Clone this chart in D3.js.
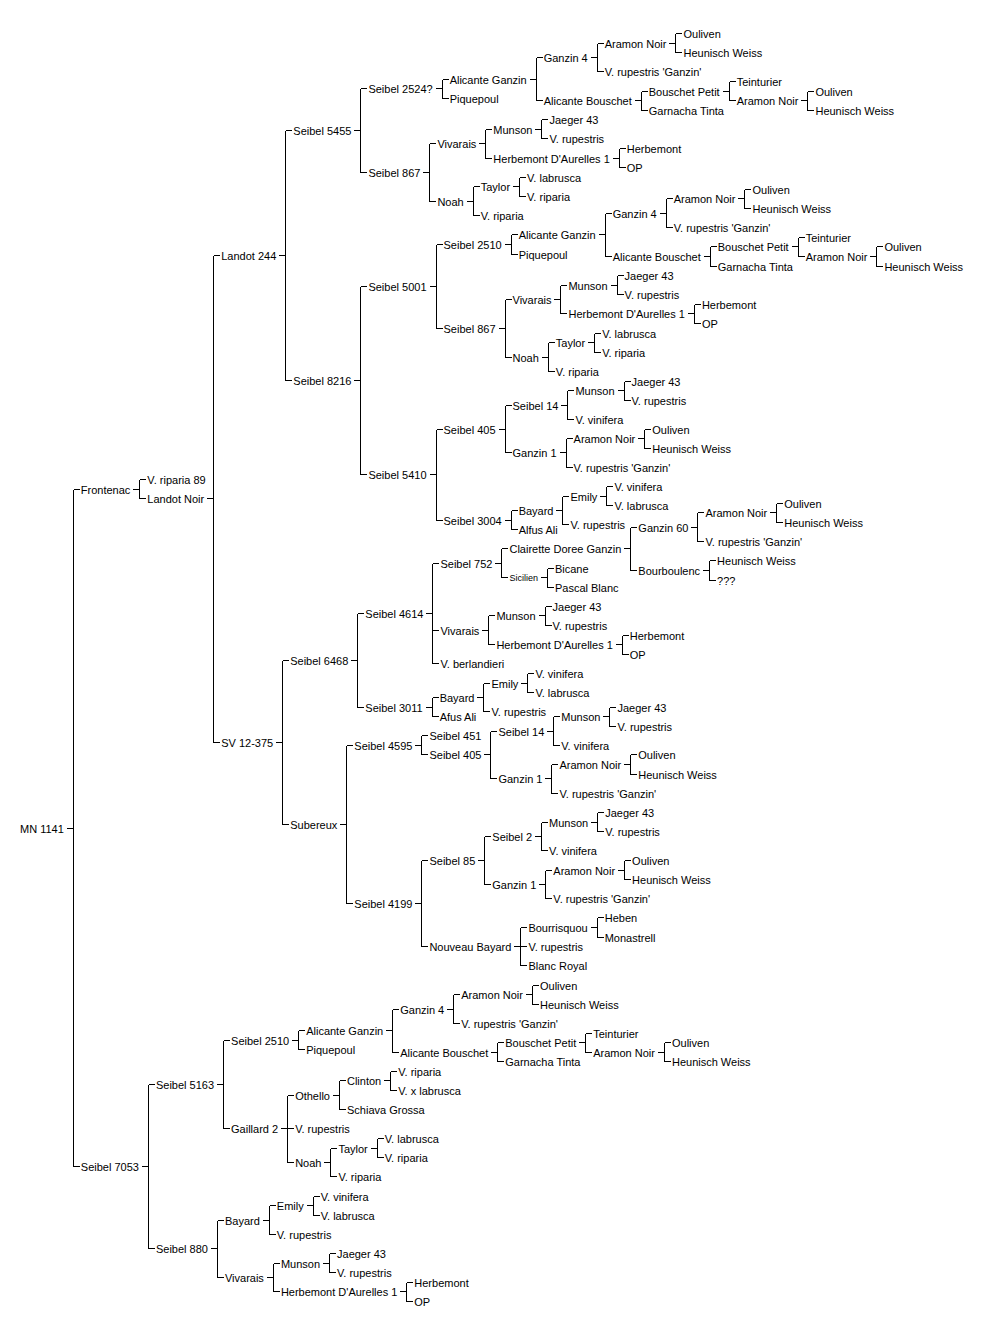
<!DOCTYPE html>
<html>
<head>
<meta charset="utf-8">
<script src="https://cdn.jsdelivr.net/npm/d3@7"></script>
<style>
  body { margin: 0; background: #fff; }
  text { font-family: "Liberation Sans", Arial, sans-serif; font-size: 11px; fill: #000; }
  line, path { stroke: #000; stroke-width: 1; fill: none; shape-rendering: crispEdges; }
</style>
</head>
<body>
<script>
'use strict';

// each node is [name, ...parents]; shared sub-pedigrees are reused
var aramonNoir = ["Aramon Noir", ["Ouliven"], ["Heunisch Weiss"]];
var munson = ["Munson", ["Jaeger 43"], ["V. rupestris"]];
var herbemontDA = ["Herbemont D'Aurelles 1", ["Herbemont"], ["OP"]];
var vivarais = ["Vivarais", munson, herbemontDA];
var taylor = ["Taylor", ["V. labrusca"], ["V. riparia"]];
var noah = ["Noah", taylor, ["V. riparia"]];
var emily = ["Emily", ["V. vinifera"], ["V. labrusca"]];
var bayard = ["Bayard", emily, ["V. rupestris"]];
var ganzin1 = ["Ganzin 1", aramonNoir, ["V. rupestris 'Ganzin'"]];
var seibel14 = ["Seibel 14", munson, ["V. vinifera"]];
var seibel405 = ["Seibel 405", seibel14, ganzin1];
var seibel867 = ["Seibel 867", vivarais, noah];

var alicanteGanzin = ["Alicante Ganzin",
  ["Ganzin 4", aramonNoir, ["V. rupestris 'Ganzin'"]],
  ["Alicante Bouschet",
    ["Bouschet Petit", ["Teinturier"], aramonNoir],
    ["Garnacha Tinta"]]];

var seibel5455 = ["Seibel 5455",
  ["Seibel 2524?", alicanteGanzin, ["Piquepoul"]],
  seibel867];

var seibel8216 = ["Seibel 8216",
  ["Seibel 5001", ["Seibel 2510", alicanteGanzin, ["Piquepoul"]], seibel867],
  ["Seibel 5410", seibel405, ["Seibel 3004", bayard, ["Alfus Ali"]]]];

var seibel6468 = ["Seibel 6468",
  ["Seibel 4614",
    ["Seibel 752",
      ["Clairette Doree Ganzin",
        ["Ganzin 60", aramonNoir, ["V. rupestris 'Ganzin'"]],
        ["Bourboulenc", ["Heunisch Weiss"], ["???"]]],
      ["Sicilien", ["Bicane"], ["Pascal Blanc"]]],
    vivarais,
    ["V. berlandieri"]],
  ["Seibel 3011", bayard, ["Afus Ali"]]];

var subereux = ["Subereux",
  ["Seibel 4595", ["Seibel 451"], seibel405],
  ["Seibel 4199",
    ["Seibel 85", ["Seibel 2", munson, ["V. vinifera"]], ganzin1],
    ["Nouveau Bayard",
      ["Bourrisquou", ["Heben"], ["Monastrell"]],
      ["V. rupestris"],
      ["Blanc Royal"]]]];

var seibel7053 = ["Seibel 7053",
  ["Seibel 5163",
    ["Seibel 2510", alicanteGanzin, ["Piquepoul"]],
    ["Gaillard 2",
      ["Othello", ["Clinton", ["V. riparia"], ["V. x labrusca"]], ["Schiava Grossa"]],
      ["V. rupestris"],
      noah]],
  ["Seibel 880", bayard, vivarais]];

var pedigree = ["MN 1141",
  ["Frontenac",
    ["V. riparia 89"],
    ["Landot Noir", ["Landot 244", seibel5455, seibel8216], ["SV 12-375", seibel6468, subereux]]],
  seibel7053];

var smallLabels = ["Sicilien"];

var W = 1000, H = 1326;
var svg = d3.select("body").append("svg").attr("width", W).attr("height", H);

var root = d3.hierarchy(pedigree, d => d.length > 1 ? d.slice(1) : null);

var gLinks = svg.append("g");
var gText = svg.append("g");

// place labels, measure widths, then derive horizontal positions
root.each(function(d) {
  d.t = gText.append("text")
    .attr("dominant-baseline", "central")
    .style("font-size", smallLabels.includes(d.data[0]) ? "9px" : null)
    .text(d.data[0]);
  d.w = d.t.node().getComputedTextLength();
});
root.eachBefore(function(d) {
  d.px = d.parent ? d.parent.px + d.parent.w + 17 : 20;
});

// compact vertical packing: siblings stacked as close as their labels allow
var GAP = 1;
function pack(d) {
  var own = { x0: d.px - 9, x1: d.px + d.w + (d.children ? 10 : 2), y: 0 };
  if (!d.children) { d.off = 0; return [own]; }
  var placed = [], offs = [];
  d.children.forEach(function(c, i) {
    var boxes = pack(c);
    var o = i ? offs[i - 1] + GAP : 0;
    placed.forEach(function(b) {
      boxes.forEach(function(k) {
        if (k.x0 < b.x1 && b.x0 < k.x1) o = Math.max(o, b.y - k.y + GAP);
      });
    });
    offs.push(o);
    boxes.forEach(k => placed.push({ x0: k.x0, x1: k.x1, y: k.y + o }));
  });
  var mid = (offs[0] + offs[offs.length - 1]) / 2;
  d.children.forEach((c, i) => c.off = offs[i] - mid);
  placed.forEach(b => b.y -= mid);
  placed.push(own);
  return placed;
}
pack(root);
root.off = 0;
root.eachBefore(d => d.ry = d.parent ? d.parent.ry + d.off : 0);

var y = d3.scaleLinear().domain(d3.extent(root.descendants(), d => d.ry)).range([33, 1301]);

root.each(function(d) {
  d.py = Math.round(y(d.ry)) + 0.5;
  d.t.attr("x", d.px).attr("y", d.py);
});

root.each(function(d) {
  if (!d.children) return;
  var bx = Math.round(d.px + d.w + 9) + 0.5;
  gLinks.append("line").attr("x1", bx - 7).attr("x2", bx).attr("y1", d.py).attr("y2", d.py);
  var ys = d.children.map(c => c.py);
  gLinks.append("line").attr("x1", bx).attr("x2", bx).attr("y1", d3.min(ys)).attr("y2", d3.max(ys));
  d.children.forEach(function(c) {
    gLinks.append("line").attr("x1", bx).attr("x2", bx + 6).attr("y1", c.py).attr("y2", c.py);
  });
});
</script>
</body>
</html>
